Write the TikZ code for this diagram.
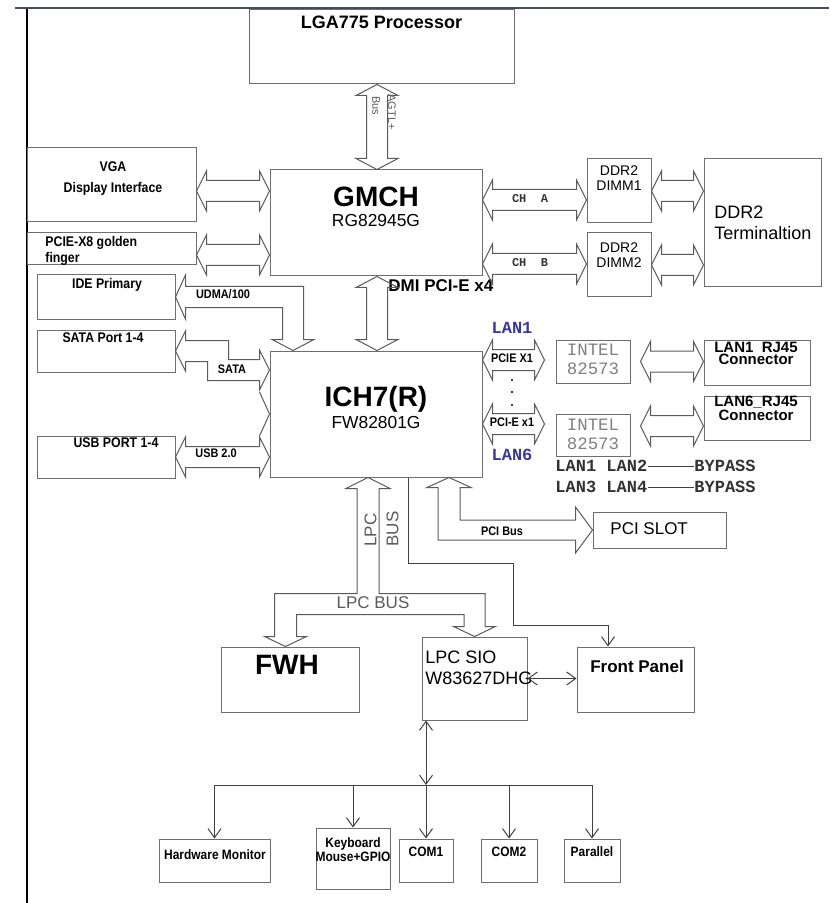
\documentclass[tikz,border=0pt]{standalone}
\usepackage{fontspec}
\setmainfont{Liberation Sans}
\setmonofont{Liberation Mono}
\newfontfamily\narrowfont[FakeStretch=0.88]{Liberation Sans}
\usetikzlibrary{calc,arrows.meta}

\definecolor{boxgray}{HTML}{6E6E6E}
\definecolor{busgray}{HTML}{5A5A5A}
\definecolor{wiregray}{HTML}{404040}
\definecolor{lanblue}{HTML}{3A3A96}
\definecolor{framecol}{HTML}{3E4C5E}

% hollow double-headed bus arrows, left->right and top->bottom
\newcommand{\fatH}[2]{%
  \draw[busline] let \p1=#1, \p2=#2 in
    (\x1,\y1) -- (\x1+5pt,\y1+10pt) -- (\x1+5pt,\y1+5.25pt) -- (\x2-5pt,\y1+5.25pt)
    -- (\x2-5pt,\y1+10pt) -- (\x2,\y1) -- (\x2-5pt,\y1-10pt) -- (\x2-5pt,\y1-5.25pt)
    -- (\x1+5pt,\y1-5.25pt) -- (\x1+5pt,\y1-10pt) -- cycle;}
\newcommand{\fatV}[2]{%
  \draw[busline] let \p1=#1, \p2=#2 in
    (\x1,\y1) -- (\x1+10.5pt,\y1-5.5pt) -- (\x1+5.25pt,\y1-5.5pt) -- (\x1+5.25pt,\y2+5.5pt)
    -- (\x1+10.5pt,\y2+5.5pt) -- (\x1,\y2) -- (\x1-10.5pt,\y2+5.5pt) -- (\x1-5.25pt,\y2+5.5pt)
    -- (\x1-5.25pt,\y1-5.5pt) -- (\x1-10.5pt,\y1-5.5pt) -- cycle;}

\tikzset{
  blk/.style={draw=boxgray, line width=0.5pt, inner sep=0pt},
  busline/.style={draw=busgray, line width=0.5pt},
  wire/.style={draw=wiregray, line width=0.5pt, >={Straight Barb[length=4.5pt,width=6.5pt]}},
  txtitle/.style={inner sep=0pt, font=\bfseries\fontsize{9}{10}\selectfont},
  txbig/.style={inner sep=0pt, font=\bfseries\fontsize{14}{15}\selectfont},
  txchip/.style={inner sep=0pt, font=\fontsize{8.7}{10}\selectfont},
  txlbl/.style={inner sep=0pt, align=center, font=\narrowfont\bfseries\fontsize{7}{10.5}\selectfont},
  txsmall/.style={inner sep=0pt, font=\narrowfont\bfseries\fontsize{6.2}{7}\selectfont},
  txgray/.style={inner sep=0pt, text=busgray, font=\fontsize{8.5}{9}\selectfont},
  txmono/.style={inner sep=0pt, align=center, text=gray, font=\ttfamily\fontsize{8.7}{9.5}\selectfont},
  txlan/.style={inner sep=0pt, text=lanblue, font=\ttfamily\bfseries\fontsize{8.5}{9}\selectfont},
  txbyp/.style={inner sep=0pt, text=black!80, font=\ttfamily\bfseries\fontsize{8.5}{9}\selectfont},
}

\begin{document}
\begin{tikzpicture}[x=0.5pt,y=-0.5pt]
  \useasboundingbox (0,0) rectangle (829,903);
  \draw[framecol, line width=1.2pt] (15,8) -- (829,8);
  \draw[line width=0.6pt] (27,9) -- (27,903);

  % blocks
  \node[blk, minimum width=132.5pt, minimum height=37pt] (cpu) at (381.5,47) {};
  \node[blk, minimum width=106pt, minimum height=53pt] (gmch) at (376,223) {};
  \node[blk, minimum width=106pt, minimum height=63pt] (ich) at (376,414) {};
  \node[blk, minimum width=84.5pt, minimum height=37pt] (vga) at (111.5,185) {};
  \node[blk, minimum width=84.5pt, minimum height=16pt] (pcie) at (111.5,249) {};
  \node[blk, minimum width=69pt, minimum height=22pt] (ide) at (106,297) {};
  \node[blk, minimum width=69pt, minimum height=21pt] (sata) at (106,351) {};
  \node[blk, minimum width=69pt, minimum height=21pt] (usb) at (106,457) {};
  \node[blk, minimum width=32pt, minimum height=32pt] (dimm1) at (619,191) {};
  \node[blk, minimum width=32pt, minimum height=32pt] (dimm2) at (619,265) {};
  \node[blk, minimum width=58.5pt, minimum height=64pt] (term) at (762.5,223) {};
  \node[blk, minimum width=37pt, minimum height=21.5pt] (intel1) at (593,361.5) {};
  \node[blk, minimum width=37pt, minimum height=21pt] (intel2) at (593,435) {};
  \node[blk, minimum width=53pt, minimum height=22.5pt] (rj1) at (757,362.5) {};
  \node[blk, minimum width=53pt, minimum height=22pt] (rj6) at (757,418) {};
  \node[blk, minimum width=66.5pt, minimum height=18pt] (pcislot) at (659.5,530) {};
  \node[blk, minimum width=69pt, minimum height=32.5pt] (fwh) at (290,679.5) {};
  \node[blk, minimum width=52.5pt, minimum height=41.5pt] (sio) at (474.5,678.5) {};
  \node[blk, minimum width=58.5pt, minimum height=32.5pt] (front) at (635.5,679.5) {};
  \node[blk, minimum width=55.5pt, minimum height=21.5pt] (hwmon) at (214.5,860.5) {};
  \node[blk, minimum width=37pt, minimum height=30.5pt] (kbd) at (353,858.5) {};
  \node[blk, minimum width=27pt, minimum height=21.5pt] (com1) at (426,860.5) {};
  \node[blk, minimum width=28pt, minimum height=21.5pt] (com2) at (509,860.5) {};
  \node[blk, minimum width=28pt, minimum height=21.5pt] (parallel) at (592,860.5) {};

  % texts
  \node[txtitle] (cpu-t) at (381.5,22) {LGA775 Processor};
  \node[txbig] (gmch-t) at (376,197) {GMCH};
  \node[txchip] (gmch-s) at (376,221) {RG82945G};
  \node[txbig] (ich-t) at (376,399) {ICH7(R)};
  \node[txchip] (ich-s) at (376,423) {FW82801G};
  \node[txlbl] (vga-t) at (113,178.5) {VGA\\Display Interface};
  \node[txlbl, align=left, anchor=west, font=\narrowfont\bfseries\fontsize{7}{8}\selectfont] (pcie-t) at (45,251) {PCIE-X8 golden\\finger};
  \node[txlbl] (ide-t) at (107,285) {IDE Primary};
  \node[txlbl] (sata-t) at (103,338) {SATA Port 1-4};
  \node[txlbl] (usb-t) at (116,443) {USB PORT 1-4};
  \node[txsmall] (udma-l) at (223,294) {UDMA/100};
  \node[txsmall] (sata-l) at (232,369) {SATA};
  \node[txsmall] (usb-l) at (216,453) {USB 2.0};
  \node[txtitle, anchor=west, font=\bfseries\fontsize{8.5}{9}\selectfont] (dmi-l) at (388,286) {DMI PCI-E x4};
  \node[txbyp, font=\ttfamily\bfseries\fontsize{6}{7}\selectfont] (cha-l) at (530,199) {CH\ \ A};
  \node[txbyp, font=\ttfamily\bfseries\fontsize{6}{7}\selectfont] (chb-l) at (530,263) {CH\ \ B};
  \node[txchip, align=center, font=\fontsize{7}{7.5}\selectfont] (dimm1-t) at (619,178.5) {DDR2\\DIMM1};
  \node[txchip, align=center, font=\fontsize{7}{7.5}\selectfont] (dimm2-t) at (619,255) {DDR2\\DIMM2};
  \node[txchip, align=left, anchor=west, font=\fontsize{9}{10.5}\selectfont] (term-t) at (714,222.5) {DDR2\\Terminaltion};
  \node[txlan] (lan1-l) at (512,328) {LAN1};
  \node[txlan] (lan6-l) at (512,455) {LAN6};
  \node[txsmall] (pcie1-l) at (512,358) {PCIE X1};
  \node[txsmall] (pcie6-l) at (512,422) {PCI-E x1};
  \node[txmono] (intel1-t) at (593,359.5) {INTEL\\82573};
  \node[txmono] (intel2-t) at (593,434) {INTEL\\82573};
  \node[txtitle, align=center, font=\bfseries\fontsize{7.5}{6}\selectfont] (rj1-t) at (756,353) {LAN1\ \ RJ45\\Connector};
  \node[txtitle, align=center, font=\bfseries\fontsize{7.5}{6}\selectfont] (rj6-t) at (756,408) {LAN6\_RJ45\\Connector};
  \node[txbyp, anchor=west] (lana) at (555,466) {LAN1 LAN2};
  \node[txbyp, anchor=west] (bypa) at (694,466) {BYPASS};
  \node[txbyp, anchor=west] (lanb) at (555,487) {LAN3 LAN4};
  \node[txbyp, anchor=west] (bypb) at (694,487) {BYPASS};
  \node[txchip, anchor=west, font=\fontsize{8.5}{9}\selectfont] (pcislot-t) at (610,529) {PCI SLOT};
  \node[txsmall] (pcibus-l) at (502,531) {PCI Bus};
  \node[txgray, rotate=-90, font=\fontsize{5.5}{6}\selectfont] (bus-l) at (376,106) {Bus};
  \node[txgray, rotate=-90, font=\fontsize{5.5}{6}\selectfont] (agtl-l) at (392,112) {AGTL+};
  \node[txgray, rotate=90] (lpc-v) at (370.5,530) {LPC};
  \node[txgray, rotate=90] (bus-v) at (392.5,529) {BUS};
  \node[txgray] (lpcbus-l) at (373,603) {LPC BUS};
  \node[txbig] (fwh-t) at (287,665) {FWH};
  \node[txchip, align=left, anchor=west, font=\fontsize{9}{10.5}\selectfont] (sio-t) at (425,667.5) {LPC SIO\\W83627DHG};
  \node[txtitle, font=\bfseries\fontsize{8.5}{9}\selectfont] (front-t) at (637,666) {Front Panel};
  \node[txlbl, font=\narrowfont\bfseries\fontsize{6.8}{7}\selectfont] (hwmon-t) at (215,855) {Hardware Monitor};
  \node[txlbl, font=\narrowfont\bfseries\fontsize{6.8}{7}\selectfont] (kbd-t) at (353,850) {Keyboard\\Mouse+GPIO};
  \node[txlbl, font=\narrowfont\bfseries\fontsize{6.8}{7}\selectfont] (com1-t) at (426,852) {COM1};
  \node[txlbl, font=\narrowfont\bfseries\fontsize{6.8}{7}\selectfont] (com2-t) at (509,852) {COM2};
  \node[txlbl, font=\narrowfont\bfseries\fontsize{6.8}{7}\selectfont] (par-t) at (592,852) {Parallel};

  % fat buses
  \fatV{([xshift=-2.25pt]cpu.south)}{(gmch.north)}
  \fatV{([xshift=0.5pt]gmch.south)}{(ich.north)}
  \fatH{([yshift=-3pt]vga.east)}{(gmch.west)}
  \fatH{([yshift=-3pt]pcie.east)}{(gmch.west)}
  \fatH{([yshift=11.5pt]gmch.east)}{(dimm1.west)}
  \fatH{([yshift=-20.5pt]gmch.east)}{(dimm2.west)}
  \fatH{(dimm1.east)}{(term.west)}
  \fatH{(dimm2.east)}{(term.west)}
  \fatH{([yshift=27pt]ich.east)}{([xshift=-5.5pt]intel1.west)}
  \fatH{([yshift=-5pt]ich.east)}{([xshift=-5.5pt]intel1.west)}
  \fatH{([xshift=5pt]intel1.east)}{(rj1.west)}
  \fatH{([xshift=5pt,yshift=4.5pt]intel2.east)}{(rj6.west)}
  \fatH{(usb.east)}{(ich.west)}
  \draw[busline] let \p1=(ide.east), \p2=([xshift=-41.5pt]ich.north) in
    (\x1,\y1) -- (\x1+5pt,\y1+11pt) -- (\x1+5pt,\y1+5.25pt) -- (\x2+5.25pt,\y1+5.25pt)
    -- (\x2+5.25pt,\y2+5.5pt) -- (\x2+10.5pt,\y2+5.5pt) -- (\x2,\y2) -- (\x2-10.5pt,\y2+5.5pt)
    -- (\x2-5.25pt,\y2+5.5pt) -- (\x2-5.25pt,\y1-5.25pt) -- (\x1+5pt,\y1-5.25pt)
    -- (\x1+5pt,\y1-11pt) -- cycle;
  \draw[busline] let \p1=(sata.east), \p2=([yshift=22pt]ich.west), \p3=([xshift=21.25pt]sata.east) in
    (\x1,\y1) -- (\x1+5pt,\y1+10pt) -- (\x1+5pt,\y1+5.25pt) -- (\x3+5.25pt,\y1+5.25pt)
    -- (\x3+5.25pt,\y2+5.25pt) -- (\x2-5pt,\y2+5.25pt) -- (\x2-5pt,\y2+10pt) -- (\x2,\y2)
    -- (\x2-5pt,\y2-10pt) -- (\x2-5pt,\y2-5.25pt) -- (\x3-5.25pt,\y2-5.25pt)
    -- (\x3-5.25pt,\y1-5.25pt) -- (\x1+5pt,\y1-5.25pt) -- (\x1+5pt,\y1-10pt) -- cycle;
  \draw[busline] ([xshift=-5pt,yshift=11pt]ich.west) -- (ich.west) -- ([xshift=-5pt,yshift=-11pt]ich.west);
  \draw[busline] let \p1=([xshift=36.5pt]ich.south), \p2=(pcislot.west) in
    (\x1,\y1) -- (\x1+11pt,\y1-5pt) -- (\x1+5.5pt,\y1-5pt) -- (\x1+5.5pt,\y2+5pt)
    -- (\x2-8.5pt,\y2+5pt) -- (\x2-8.5pt,\y2+11.5pt) -- (\x2,\y2) -- (\x2-8.5pt,\y2-11.5pt)
    -- (\x2-8.5pt,\y2-5pt) -- (\x1-5.5pt,\y2-5pt) -- (\x1-5.5pt,\y1-5pt) -- (\x1-11pt,\y1-5pt) -- cycle;
  \draw[busline] let \p1=([xshift=-4pt]ich.south), \p2=([xshift=-2.25pt]fwh.north),
      \p3=(sio.north), \p4=([yshift=21.25pt]fwh.north) in
    (\x1,\y1) -- (\x1+11pt,\y1-5.5pt) -- (\x1+5.5pt,\y1-5.5pt) -- (\x1+5.5pt,\y4+5.25pt)
    -- (\x3+5.25pt,\y4+5.25pt) -- (\x3+5.25pt,\y3+5pt) -- (\x3+10.5pt,\y3+5pt) -- (\x3,\y3)
    -- (\x3-10.5pt,\y3+5pt) -- (\x3-5.25pt,\y3+5pt) -- (\x3-5.25pt,\y4-5.25pt)
    -- (\x2+5.5pt,\y4-5.25pt) -- (\x2+5.5pt,\y2+5pt) -- (\x2+10.5pt,\y2+5pt) -- (\x2,\y2)
    -- (\x2-10.5pt,\y2+5pt) -- (\x2-5.5pt,\y2+5pt) -- (\x2-5.5pt,\y4+5.25pt)
    -- (\x1-5.5pt,\y4+5.25pt) -- (\x1-5.5pt,\y1-5.5pt) -- (\x1-11pt,\y1-5.5pt) -- cycle;

  \foreach \yy in {380,392,405}
    \fill (512,\yy) circle (0.6pt);

  % thin links
  \draw[wire] (lana) -- (bypa);
  \draw[wire] (lanb) -- (bypb);
  \draw[wire,->] ([xshift=16pt]ich.south) -- ++(0,86) -| ++(105,62) -| ([xshift=-13.75pt]front.north);
  \draw[wire,<->] (sio.east) -- (front.west |- sio.east);
  \coordinate (hub) at (426,785);
  \draw[wire,<->] ([xshift=-24.25pt]sio.south) -- (hub);
  \draw[wire] (hwmon.north |- hub) -- (parallel.north |- hub);
  \foreach \b in {hwmon,kbd,com1,com2,parallel}
    \draw[wire,->] (\b.north |- hub) -- (\b.north);
\end{tikzpicture}
\end{document}
